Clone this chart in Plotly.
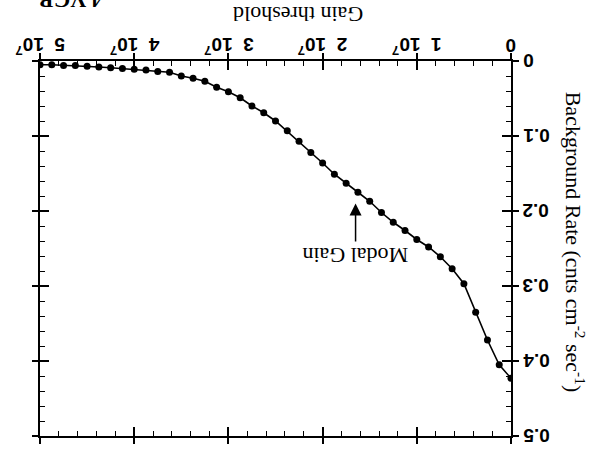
import plotly.graph_objects as go

# Gain threshold (units of 1e7) and measured background rate (cnts cm^-2 sec^-1)
gain_1e7 = [0.000, 0.125, 0.250, 0.375, 0.500, 0.625, 0.750, 0.875, 1.000, 1.125,
            1.250, 1.375, 1.500, 1.625, 1.750, 1.875, 2.000, 2.125, 2.250, 2.375,
            2.500, 2.625, 2.750, 2.875, 3.000, 3.125, 3.250, 3.375, 3.500, 3.625,
            3.750, 3.875, 4.000, 4.125, 4.250, 4.375, 4.500, 4.625, 4.750, 4.875,
            5.000]
rate = [0.423, 0.405, 0.372, 0.335, 0.297, 0.277, 0.261, 0.248, 0.238, 0.226,
        0.215, 0.202, 0.187, 0.175, 0.163, 0.151, 0.136, 0.122, 0.107, 0.093,
        0.080, 0.069, 0.060, 0.049, 0.041, 0.035, 0.027, 0.023, 0.020, 0.015,
        0.014, 0.012, 0.011, 0.010, 0.009, 0.008, 0.007, 0.006, 0.006, 0.005,
        0.005]

x_tickvals_1e7 = [0, 1, 2, 3, 4, 5]
x_ticktext = ["0", "1&nbsp; 10<sup>7</sup>", "2&nbsp; 10<sup>7</sup>",
              "3&nbsp; 10<sup>7</sup>", "4&nbsp; 10<sup>7</sup>",
              "5&nbsp; 10<sup>7</sup>"]
y_tickvals = [0, 0.1, 0.2, 0.3, 0.4, 0.5]
y_ticktext = ["0", "0.1", "0.2", "0.3", "0.4", "0.5"]

MODAL_GAIN_1E7 = 1.65
MODAL_ARROW_RATE = 0.19

gain = [g * 1e7 for g in gain_1e7]
x_tickvals = [v * 1e7 for v in x_tickvals_1e7]
XRANGE = [5e7, 0]
YRANGE = [0.5, 0]

BLACK = "black"
SANS = "Liberation Sans"
SERIF = "Liberation Serif"

fig = go.Figure()
fig.add_trace(go.Scatter(
    x=gain, y=rate, mode="lines+markers",
    line=dict(color=BLACK, width=1.6),
    marker=dict(color=BLACK, size=7),
    xaxis="x", yaxis="y", hoverinfo="skip",
))
# companion trace that carries the inner tick set
fig.add_trace(go.Scatter(
    x=gain, y=rate, mode="lines", line=dict(width=0, color="rgba(0,0,0,0)"),
    xaxis="x2", yaxis="y2", hoverinfo="skip", showlegend=False,
))

common = dict(showgrid=False, zeroline=False, showline=True, linecolor=BLACK,
              linewidth=2.2, tickcolor=BLACK, tickwidth=1.6, showticklabels=False)

fig.update_layout(
    width=595, height=456,
    margin=dict(l=40, r=84, t=61, b=13),
    plot_bgcolor="white", paper_bgcolor="white",
    showlegend=False,
    xaxis=dict(range=XRANGE, side="top", anchor="y", tickmode="array",
               tickvals=x_tickvals, ticks="outside", ticklen=6, mirror="ticks",
               **common),
    yaxis=dict(range=YRANGE, side="right", anchor="x", tickmode="array",
               tickvals=y_tickvals, ticks="outside", ticklen=6, mirror="ticks",
               **common),
    xaxis2=dict(range=XRANGE, side="top", anchor="y2", overlaying="x",
                tickmode="linear", tick0=0, dtick=1e7, ticks="inside", ticklen=9,
                mirror="ticks",
                minor=dict(tickmode="linear", tick0=0, dtick=2e6, ticks="inside",
                           ticklen=5, tickwidth=1.3, tickcolor=BLACK),
                **common),
    yaxis2=dict(range=YRANGE, side="right", anchor="x2", overlaying="y",
                tickmode="linear", tick0=0, dtick=0.1, ticks="inside", ticklen=9,
                mirror="ticks",
                minor=dict(tickmode="linear", tick0=0, dtick=0.02, ticks="inside",
                           ticklen=5, tickwidth=1.3, tickcolor=BLACK),
                **common),
)

# upside-down tick labels, placed on the axis scales
tick_font = dict(family=SANS, size=19, color=BLACK, weight="bold")
for v, t in zip(x_tickvals, x_ticktext):
    fig.add_annotation(
        text=t, x=v, xref="x", y=1.042, yref="paper",
        xanchor="center", yanchor="middle", showarrow=False, textangle=180,
        font=tick_font,
    )
for v, t in zip(y_tickvals, y_ticktext):
    fig.add_annotation(
        text=t, x=1.02, xref="paper", y=v, yref="y",
        xanchor="left", yanchor="middle", showarrow=False, textangle=180,
        font=tick_font,
    )

fig.add_annotation(
    text="Gain threshold", xref="paper", yref="paper", x=0.548, y=1.124,
    xanchor="center", yanchor="middle", showarrow=False, textangle=180,
    font=dict(family=SERIF, size=22, color=BLACK),
)
fig.add_annotation(
    text="Background Rate (cnts cm<sup>-2</sup> sec<sup>-1</sup>)",
    xref="paper", yref="paper", x=1.136, y=0.518,
    xanchor="center", yanchor="middle", showarrow=False, textangle=90,
    font=dict(family=SERIF, size=22, color=BLACK),
)
fig.add_annotation(
    text="<b>4 VGB</b>", xref="paper", yref="paper", x=0.064, y=1.162,
    xanchor="center", yanchor="middle", showarrow=False, textangle=180,
    font=dict(family=SERIF, size=22, color=BLACK),
)
fig.add_annotation(
    text="Modal Gain", x=MODAL_GAIN_1E7 * 1e7, y=MODAL_ARROW_RATE,
    xref="x", yref="y", showarrow=True, ax=0, ay=52,
    arrowhead=2, arrowsize=1.6, arrowwidth=1.5, arrowcolor=BLACK, standoff=0,
    textangle=180, font=dict(family=SERIF, size=22, color=BLACK),
)

fig.write_html("out.html")
